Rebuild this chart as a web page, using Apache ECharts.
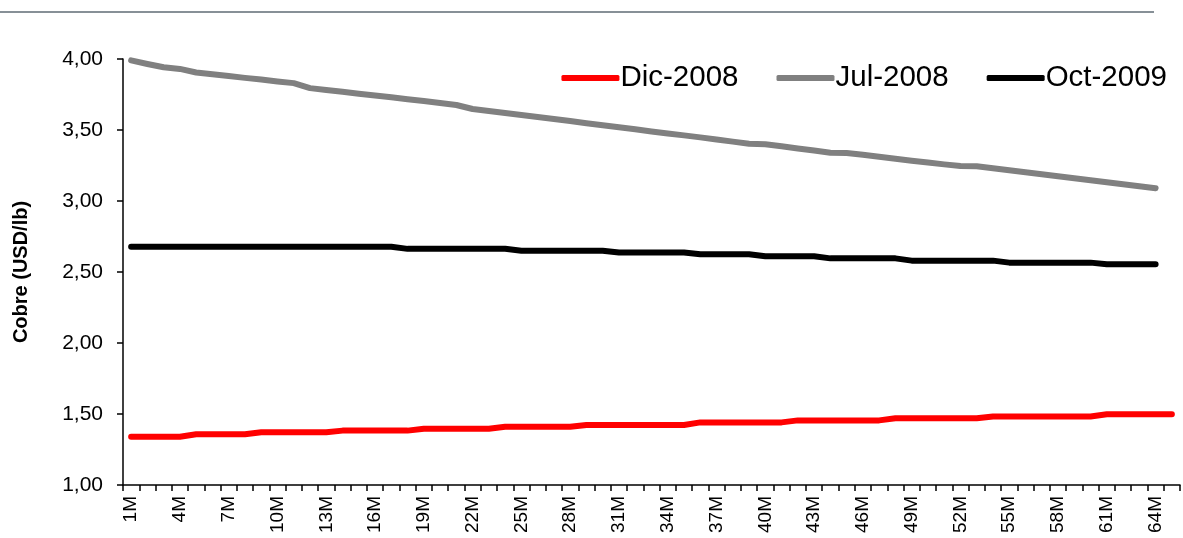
<!DOCTYPE html>
<html>
<head>
<meta charset="utf-8">
<script src="https://cdn.jsdelivr.net/npm/echarts@6/dist/echarts.min.js"></script>
<style>
  html, body { margin: 0; padding: 0; background: #ffffff; }
  #chart { width: 1183px; height: 538px; }
</style>
</head>
<body>
<div id="chart"></div>
<script>
// Copper forward curves (USD/lb) by contract month
const months = [
  '1M','2M','3M','4M','5M','6M','7M','8M','9M','10M',
  '11M','12M','13M','14M','15M','16M','17M','18M','19M','20M',
  '21M','22M','23M','24M','25M','26M','27M','28M','29M','30M',
  '31M','32M','33M','34M','35M','36M','37M','38M','39M','40M',
  '41M','42M','43M','44M','45M','46M','47M','48M','49M','50M',
  '51M','52M','53M','54M','55M','56M','57M','58M','59M','60M',
  '61M','62M','63M','64M','65M'
];

const dic2008 = [
  1.340, 1.340, 1.340, 1.340, 1.357, 1.357, 1.357, 1.357, 1.371, 1.371,
  1.371, 1.371, 1.371, 1.383, 1.383, 1.383, 1.383, 1.383, 1.396, 1.396,
  1.396, 1.396, 1.396, 1.410, 1.410, 1.410, 1.410, 1.410, 1.423, 1.423,
  1.423, 1.423, 1.423, 1.423, 1.423, 1.441, 1.441, 1.441, 1.441, 1.441,
  1.441, 1.455, 1.455, 1.455, 1.455, 1.455, 1.455, 1.470, 1.470, 1.470,
  1.470, 1.470, 1.470, 1.483, 1.483, 1.483, 1.483, 1.483, 1.483, 1.483,
  1.498, 1.498, 1.498, 1.498, 1.498
];

const jul2008 = [
  3.990, 3.965, 3.942, 3.930, 3.905, 3.892, 3.880, 3.867, 3.855, 3.842,
  3.830, 3.795, 3.782, 3.769, 3.756, 3.743, 3.730, 3.717, 3.704, 3.690,
  3.676, 3.648, 3.634, 3.620, 3.606, 3.592, 3.578, 3.563, 3.548, 3.534,
  3.520, 3.505, 3.490, 3.476, 3.462, 3.448, 3.433, 3.418, 3.403, 3.400,
  3.385, 3.370, 3.355, 3.340, 3.338, 3.325, 3.311, 3.297, 3.284, 3.271,
  3.258, 3.246, 3.244, 3.230, 3.216, 3.202, 3.188, 3.174, 3.160, 3.146,
  3.132, 3.118, 3.104, 3.090
];

const oct2009 = [
  2.678, 2.678, 2.678, 2.678, 2.678, 2.678, 2.678, 2.678, 2.678, 2.678,
  2.678, 2.678, 2.678, 2.678, 2.678, 2.678, 2.678, 2.663, 2.663, 2.663,
  2.663, 2.663, 2.663, 2.663, 2.650, 2.650, 2.650, 2.650, 2.650, 2.650,
  2.638, 2.638, 2.638, 2.638, 2.638, 2.625, 2.625, 2.625, 2.625, 2.611,
  2.611, 2.611, 2.611, 2.596, 2.596, 2.596, 2.596, 2.596, 2.580, 2.580,
  2.580, 2.580, 2.580, 2.580, 2.566, 2.566, 2.566, 2.566, 2.566, 2.566,
  2.554, 2.554, 2.554, 2.554
];

const yTicks = { min: 1, max: 4, step: 0.5 };
const FONT = '"Liberation Sans", Arial, sans-serif';

const chart = echarts.init(document.getElementById('chart'), null, { renderer: 'canvas' });

function lineSeries(name, data, color) {
  return {
    name: name,
    type: 'line',
    data: data,
    symbol: 'none',
    smooth: false,
    lineStyle: { color: color, width: 6, cap: 'round', join: 'round' },
    itemStyle: { color: color },
    emphasis: { disabled: true }
  };
}

chart.setOption({
  animation: false,
  backgroundColor: '#ffffff',
  textStyle: { fontFamily: FONT },
  graphic: [{
    type: 'line',
    shape: { x1: 0, y1: 12, x2: 1154, y2: 12 },
    style: { stroke: '#5f6b75', lineWidth: 1.5 }
  }],
  grid: { left: 123, right: 3, top: 59, bottom: 53, containLabel: false },
  legend: {
    right: 11,
    top: 58,
    itemWidth: 58,
    itemHeight: 6,
    itemGap: 38,
    icon: 'roundRect',
    textStyle: { fontFamily: FONT, fontSize: 29.5, color: '#000000', padding: [0, 0, 0, -4] },
    data: ['Dic-2008', 'Jul-2008', 'Oct-2009']
  },
  xAxis: {
    type: 'category',
    data: months,
    boundaryGap: true,
    axisLine: { lineStyle: { color: '#000000', width: 1.5 } },
    axisTick: { show: true, interval: 0, length: 6, lineStyle: { color: '#000000', width: 1.5 } },
    axisLabel: {
      interval: 2,
      rotate: 90,
      margin: 11,
      fontSize: 19,
      color: '#000000',
      fontFamily: FONT
    },
    splitLine: { show: false }
  },
  yAxis: {
    type: 'value',
    min: yTicks.min,
    max: yTicks.max,
    interval: yTicks.step,
    name: 'Cobre (USD/lb)',
    nameLocation: 'middle',
    nameGap: 92,
    nameRotate: 90,
    nameTextStyle: { fontFamily: FONT, fontSize: 20, fontWeight: 'bold', color: '#000000' },
    axisLine: { show: true, lineStyle: { color: '#000000', width: 1.5 } },
    axisTick: { show: true, length: 6, lineStyle: { color: '#000000', width: 1.5 } },
    axisLabel: {
      margin: 20,
      fontSize: 21,
      color: '#000000',
      fontFamily: FONT,
      formatter: v => v.toFixed(2).replace('.', ',')
    },
    splitLine: { show: false }
  },
  series: [
    lineSeries('Dic-2008', dic2008, '#ff0000'),
    lineSeries('Jul-2008', jul2008, '#808080'),
    lineSeries('Oct-2009', oct2009, '#000000')
  ]
});
</script>
</body>
</html>
